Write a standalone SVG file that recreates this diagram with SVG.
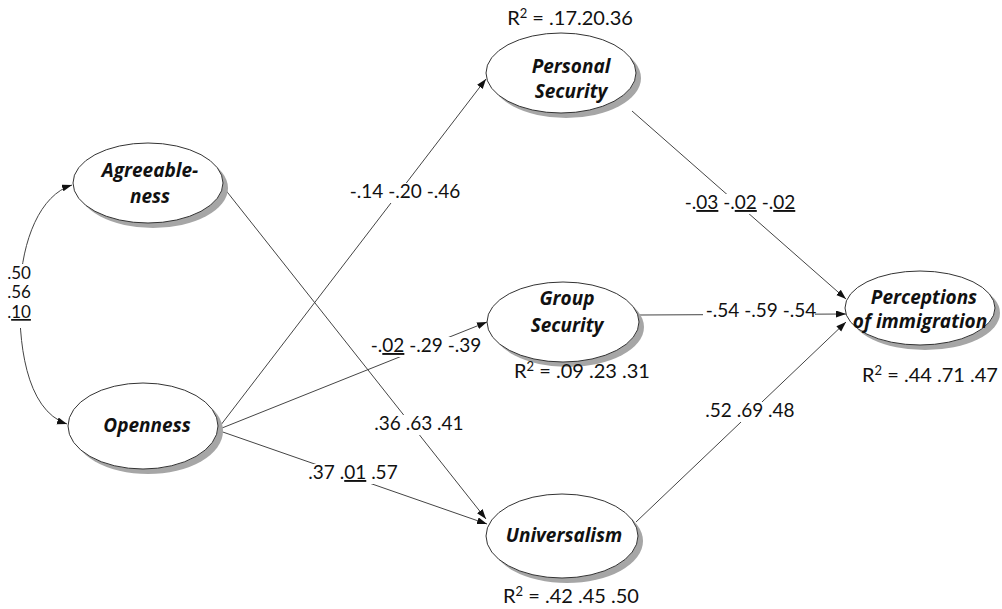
<svg xmlns="http://www.w3.org/2000/svg" width="1002" height="609" viewBox="0 0 1002 609">
<defs>
<marker id="ah" markerWidth="11" markerHeight="8" refX="10" refY="3.5" orient="auto-start-reverse" markerUnits="userSpaceOnUse">
<path d="M0,0 L10,3.5 L0,7 z" fill="#111"/>
</marker>
<style>
.shadow{fill:#a6a6a6;}
.node{fill:#fff;stroke:#333;stroke-width:1;}
.nl{font-family:"Open Sans",Lato,"Liberation Sans",sans-serif;font-weight:bold;font-style:italic;font-size:19px;fill:#111;text-anchor:middle;}
.lab{font-family:Lato,"Open Sans","Liberation Sans",sans-serif;font-size:19px;fill:#111;text-anchor:middle;}
.stk{font-size:17px;}
.r2{font-family:Lato,"Open Sans","Liberation Sans",sans-serif;font-size:20px;fill:#111;text-anchor:middle;}
.ln{fill:none;stroke:#444;stroke-width:1;}
.bg{fill:#fff;}
.u{text-decoration:underline;}
</style>
</defs>
<rect width="1002" height="609" fill="#fff"/>

<g id="connectors">
<path class="ln" d="M72,185 C40,195 22,240 20,290 C18,340 25,410 67,424" marker-start="url(#ah)" marker-end="url(#ah)"/>
<line class="ln" x1="224" y1="188" x2="486" y2="519" marker-end="url(#ah)"/>
<line class="ln" x1="217" y1="430" x2="486" y2="79" marker-end="url(#ah)"/>
<line class="ln" x1="217" y1="430" x2="487" y2="322" marker-end="url(#ah)"/>
<line class="ln" x1="217" y1="430" x2="487" y2="524" marker-end="url(#ah)"/>
<line class="ln" x1="632" y1="111" x2="846" y2="299" marker-end="url(#ah)"/>
<line class="ln" x1="640" y1="315" x2="846" y2="314" marker-end="url(#ah)"/>
<line class="ln" x1="636" y1="522" x2="846" y2="322" marker-end="url(#ah)"/>
</g>

<g id="edge-labels">
<rect class="bg" x="5" y="264" width="30" height="64"/>
<rect class="bg" x="347" y="183" width="116" height="20"/>
<rect class="bg" x="368" y="337" width="116" height="20"/>
<rect class="bg" x="372" y="415" width="94" height="20"/>
<rect class="bg" x="306" y="464" width="94" height="20"/>
<rect class="bg" x="682" y="194" width="116" height="20"/>
<rect class="bg" x="703" y="302" width="112" height="20"/>
<rect class="bg" x="703" y="402" width="94" height="20"/>
<text class="lab stk" x="19" y="279">.50</text>
<text class="lab stk" x="19" y="298">.56</text>
<text class="lab stk" x="19" y="318">.<tspan class="u">10</tspan></text>
<text class="lab" x="405" y="198">-.14 -.20 -.46</text>
<text class="lab" x="426" y="352">-.<tspan class="u">02</tspan> -.29 -.39</text>
<text class="lab" x="419" y="430">.36 .63 .41</text>
<text class="lab" x="353" y="479">.37 .<tspan class="u">01</tspan> .57</text>
<text class="lab" x="740" y="209">-.<tspan class="u">03</tspan> -.<tspan class="u">02</tspan> -.<tspan class="u">02</tspan></text>
<text class="lab" x="761" y="317">-.54 -.59 -.54</text>
<text class="lab" x="750" y="417">.52 .69 .48</text>
</g>

<g id="agreeableness">
<ellipse class="shadow" cx="153" cy="188" rx="75" ry="40"/>
<ellipse class="node" cx="148" cy="183" rx="75" ry="40"/>
<text class="nl" x="150" y="177">Agreeable-</text>
<text class="nl" x="150" y="203">ness</text>
</g>

<g id="openness">
<ellipse class="shadow" cx="148" cy="431" rx="75" ry="43"/>
<ellipse class="node" cx="143" cy="426" rx="75" ry="43"/>
<text class="nl" x="147" y="432">Openness</text>
</g>

<g id="personal-security">
<ellipse class="shadow" cx="566" cy="78" rx="75" ry="40"/>
<ellipse class="node" cx="561" cy="73" rx="75" ry="40"/>
<text class="nl" x="571" y="73">Personal</text>
<text class="nl" x="571" y="98">Security</text>
<text class="r2" x="570" y="25">R<tspan dy="-7" font-size="13">2</tspan><tspan dy="7"> = .17.20.36</tspan></text>
</g>

<g id="group-security">
<ellipse class="shadow" cx="568" cy="327" rx="76" ry="40"/>
<ellipse class="node" cx="563" cy="322" rx="76" ry="40"/>
<text class="nl" x="567" y="305">Group</text>
<text class="nl" x="567" y="332">Security</text>
<text class="r2" x="582" y="378">R<tspan dy="-7" font-size="13">2</tspan><tspan dy="7"> = .09 .23 .31</tspan></text>
</g>

<g id="universalism">
<ellipse class="shadow" cx="567" cy="541" rx="76" ry="42"/>
<ellipse class="node" cx="562" cy="536" rx="76" ry="42"/>
<text class="nl" x="564" y="542">Universalism</text>
<text class="r2" x="571" y="603">R<tspan dy="-7" font-size="13">2</tspan><tspan dy="7"> = .42 .45 .50</tspan></text>
</g>

<g id="perceptions">
<ellipse class="shadow" cx="925" cy="313" rx="75" ry="37"/>
<ellipse class="node" cx="920" cy="308" rx="75" ry="37"/>
<text class="nl" x="924" y="304">Perceptions</text>
<text class="nl" x="920" y="328">of immigration</text>
<text class="r2" x="930" y="382">R<tspan dy="-7" font-size="13">2</tspan><tspan dy="7"> = .44 .71 .47</tspan></text>
</g>
</svg>
